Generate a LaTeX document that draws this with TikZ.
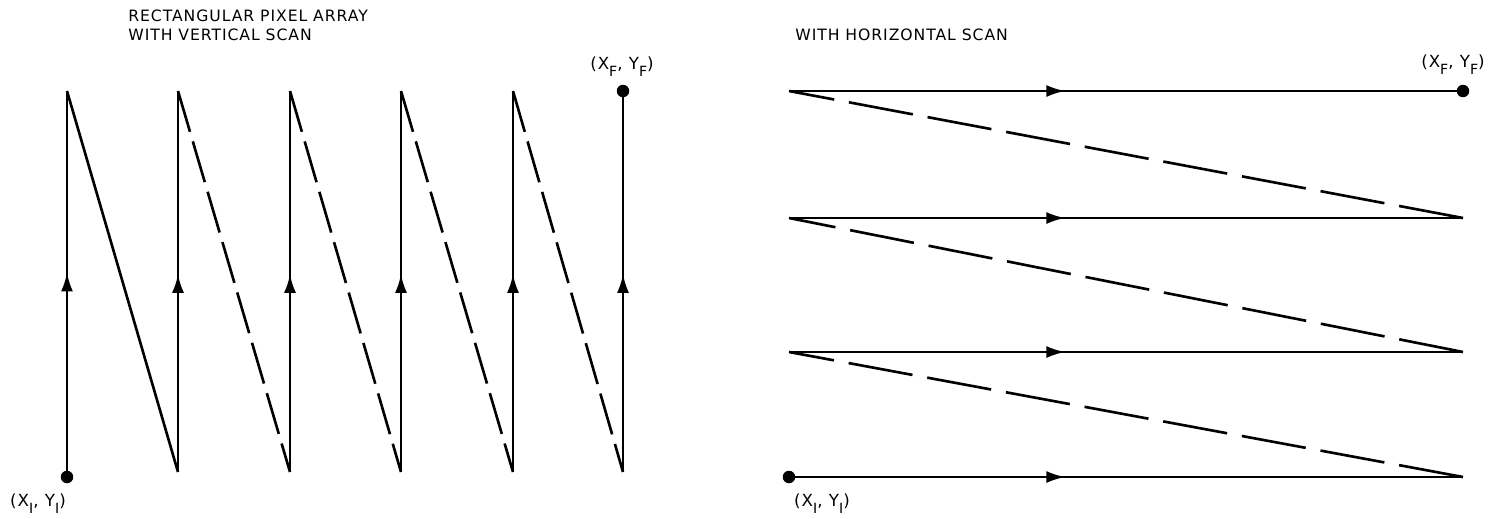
\documentclass[tikz,border=0pt]{standalone}
\usepackage{fontspec}
\setmainfont{DejaVu Sans}[LetterSpace=6]
\usetikzlibrary{arrows.meta,decorations.markings}
\newcommand{\lowsub}[1]{\raisebox{-0.8ex}{\fontsize{8}{8}\selectfont #1}}

\begin{document}
\begin{tikzpicture}[x=0.02cm,y=-0.02cm,>=Latex,font=\fontsize{8.9}{10.5}\selectfont,
 scan/.style={line width=1.5pt,postaction={decorate},
  decoration={markings,mark=at position #1 with {\arrow{Latex[length=3.8mm,width=2.4mm]}}}},
 fly/.style={line width=1.5pt,dash pattern=on 0.85cm off 0.2cm},
 flyh/.style={line width=1.5pt,dash pattern=on 1.3cm off 0.3cm},
 endpt/.style={circle,fill,inner sep=0pt,minimum size=2.5mm},
 lbl/.style={inner sep=0pt,align=left,font=\fontsize{9.5}{10}\selectfont}]
\useasboundingbox (0,0) rectangle (1491,518);
% left: vertical scan
\node[inner sep=0pt,align=left,anchor=north west] (vtitle) at (128,10) {RECTANGULAR PIXEL ARRAY\\WITH VERTICAL SCAN};
\node[endpt] (vstart) at (67,477) {};
\coordinate (t1) at (67,91);
\coordinate (b2) at (178,472); \coordinate (t2) at (178,91);
\coordinate (b3) at (290,472); \coordinate (t3) at (290,91);
\coordinate (b4) at (401,472); \coordinate (t4) at (401,91);
\coordinate (b5) at (513,472); \coordinate (t5) at (513,91);
\coordinate (b6) at (623,472);
\node[endpt] (vend) at (623,91) {};
\draw[scan=0.53] (vstart.center)--(t1);
\draw[line width=1.5pt] (t1)--(b2);
\draw[scan=0.52] (b2)--(t2);\draw[fly] (t2)--(b3);
\draw[scan=0.52] (b3)--(t3);\draw[fly] (t3)--(b4);
\draw[scan=0.52] (b4)--(t4);\draw[fly] (t4)--(b5);
\draw[scan=0.52] (b5)--(t5);\draw[fly] (t5)--(b6);
\draw[scan=0.52] (b6)--(vend.center);
\node[lbl] (vf) at (622,67) {(X\lowsub{F}, Y\lowsub{F})};
\node[lbl] (vi) at (38,504) {(X\lowsub{I}, Y\lowsub{I})};
% right: horizontal scan
\node[inner sep=0pt,anchor=west] (htitle) at (795,35) {WITH HORIZONTAL SCAN};
\node[endpt] (hstart) at (789,477) {};
\coordinate (r1) at (1463,477);
\coordinate (l2) at (789,352); \coordinate (r2) at (1463,352);
\coordinate (l3) at (789,218); \coordinate (r3) at (1463,218);
\coordinate (l4) at (789,91);
\node[endpt] (hend) at (1463,91) {};
\draw[scan=0.41] (hstart.center)--(r1);
\draw[flyh] (r1)--(l2);
\draw[scan=0.41] (l2)--(r2);\draw[flyh] (r2)--(l3);
\draw[scan=0.41] (l3)--(r3);\draw[flyh] (r3)--(l4);
\draw[scan=0.41] (l4)--(hend.center);
\node[lbl] (hf) at (1453,65) {(X\lowsub{F}, Y\lowsub{F})};
\node[lbl] (hi) at (822,504) {(X\lowsub{I}, Y\lowsub{I})};
\end{tikzpicture}
\end{document}
